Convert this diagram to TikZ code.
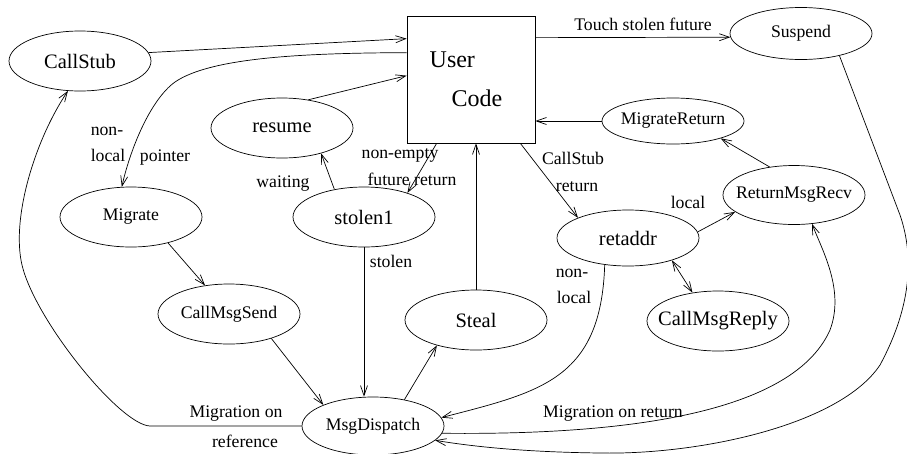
\documentclass[tikz,border=0pt]{standalone}
\usepackage{fontspec}
\setmainfont{Liberation Serif}
\usetikzlibrary{shapes,arrows.meta,positioning,calc}

\begin{document}
\begin{tikzpicture}[x=1pt,y=-1pt,
    state/.style={ellipse, draw, line width=0.7pt, minimum width=142pt, minimum height=60pt, inner xsep=-25pt, inner ysep=0pt, font=\fontsize{20.5}{22}\selectfont},
    small/.style={state, font=\fontsize{17.7}{20}\selectfont},
    lbl/.style={inner sep=0pt, text height=12pt, text depth=4pt, font=\fontsize{17.7}{20}\selectfont},
    arr/.style={line width=0.7pt, -{Straight Barb[length=10pt,width=7pt]}},
    biarr/.style={line width=0.7pt, {Straight Barb[length=10pt,width=7pt]}-{Straight Barb[length=10pt,width=7pt]}}]
  \useasboundingbox (0,0) rectangle (907,453);

  \node[draw, line width=0.7pt, minimum width=128pt, minimum height=127pt, align=left, font=\fontsize{24}{39}\selectfont] (usercode) at (471,79.5) {User\\\hspace*{22pt}Code\hspace*{10pt}};
  \node[state] (callstub) at (80,61) {CallStub};
  \node[small, minimum height=52pt] (suspend) at (801,33.5) {Suspend};
  \node[small, minimum height=46pt] (migret) at (673,121) {MigrateReturn};
  \node[small, minimum height=59pt] (retrecv) at (794,195) {ReturnMsgRecv};
  \node[state] (resume) at (282,128) {resume};
  \node[small] (migrate) at (131,217) {Migrate};
  \node[state] (stolen) at (364,217) {stolen1};
  \node[state, minimum height=56pt] (retaddr) at (628,238) {retaddr};
  \node[small] (msgsend) at (229,314) {CallMsgSend};
  \node[state] (steal) at (476,320) {Steal};
  \node[state] (msgreply) at (718,321) {CallMsgReply};
  \node[small, minimum height=58pt] (dispatch) at (373,426) {MsgDispatch};

  \node[lbl] (nonl) at (107,131) {non-};
  \node[lbl] (locl) at (108,157) {local};
  \node[lbl] (ptr) at (165,157) {pointer};
  \node[lbl] (wait) at (283,183) {waiting};
  \node[lbl] (nonempty) at (400,154) {non-empty};
  \node[lbl] (futret) at (412,181) {future return};
  \node[lbl] (stln) at (391,263) {stolen};
  \node[lbl] (touch) at (643,26) {Touch stolen future};
  \node[lbl] (csret) at (573,160) {CallStub};
  \node[lbl] (csret2) at (577,187) {return};
  \node[lbl] (loc) at (688,204) {local};
  \node[lbl] (nonloc) at (572,273) {non-};
  \node[lbl] (nonloc2) at (574,299) {local};
  \node[lbl] (migref) at (236,413) {Migration on};
  \node[lbl] (migref2) at (245,443) {reference};
  \node[lbl] (migonret) at (613,413) {Migration on return};

  \draw[arr] (callstub.7) -- ([yshift=-23pt]usercode.north west);
  \draw[arr] ([yshift=-37pt]usercode.north west) .. controls (300,53) and (210,58) .. (175,82) .. controls (150,100) and (130,150) .. (migrate.107);
  \draw[arr] (resume.47) -- ([yshift=-60pt]usercode.north west);
  \draw[arr] (stolen.137) -- (resume.-33);
  \draw[arr] ([xshift=30pt]usercode.south west) -- (stolen.29);
  \draw[arr] (steal.north) -- (steal.north |- usercode.south);
  \draw[arr] (dispatch.40) -- (steal.213);
  \draw[arr] (stolen.south) -- (stolen.south |- dispatch.north);
  \draw[arr] (migrate.-35) -- (msgsend.130);
  \draw[arr] (msgsend.-30) -- (dispatch.157);
  \draw[arr] (dispatch.west) -- (150,426) .. controls (120,425) and (35,320) .. (22,265) .. controls (11,218) and (35,140) .. (callstub.248);
  \draw[arr] (retaddr.229) .. controls (601,380) and (540,392) .. (dispatch.7);
  \draw[arr] ([xshift=-15pt]usercode.south east) -- (retaddr.158);
  \draw[arr] (retaddr.5) -- (retrecv.196);
  \draw[arr] (retrecv.131) -- (migret.-20);
  \draw[arr] (migret.west) -- (migret.west -| usercode.east);
  \draw[arr] ([yshift=-22pt]usercode.north east) -- (suspend.183);
  \draw[biarr] (retaddr.-27) -- (msgreply.132);
  \draw[arr] (dispatch.-6) .. controls (600,435) and (790,420) .. (830,330) .. controls (845,290) and (822,250) .. (retrecv.-58);
  \draw[arr] (suspend.-30) -- (900,215) .. controls (912,250) and (915,300) .. (880,365) .. controls (840,425) and (700,455) .. (600,453) .. controls (520,452) and (470,446) .. (dispatch.-13);
\end{tikzpicture}
\end{document}
